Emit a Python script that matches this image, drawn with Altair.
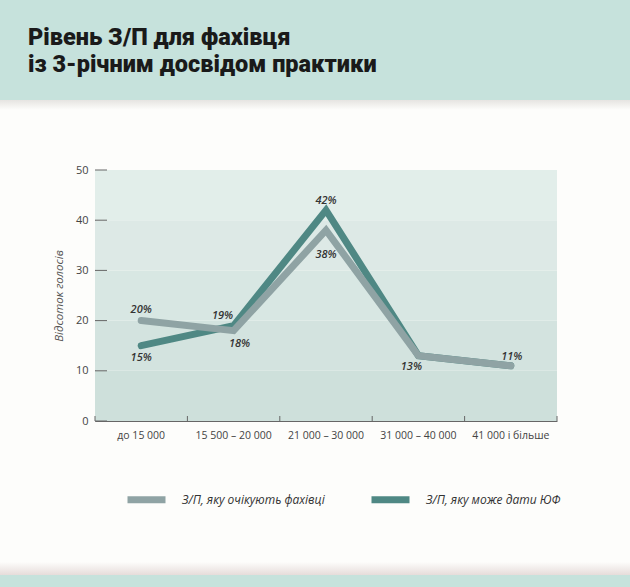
import altair as alt
import pandas as pd

# ---------------- data ----------------
categories = ["до 15 000", "15 500 – 20 000", "21 000 – 30 000", "31 000 – 40 000", "41 000 і більше"]
expected = [20, 18, 38, 13, 11]      # З/П, яку очікують фахівці
offered = [15, 19, 42, 13, 11]       # З/П, яку може дати ЮФ
series_names = ["З/П, яку очікують фахівці", "З/П, яку може дати ЮФ"]
series_colors = ["#8fa3a4", "#4f8884"]
title_lines = ["Рівень З/П для фахівця", "із 3-річним досвідом практики"]
y_ticks = [0, 10, 20, 30, 40, 50]
band_colors = ["#cee0db", "#d3e3df", "#d8e7e3", "#dde9e6", "#e2eeea"]

W, H = 462, 251

df_exp = pd.DataFrame({"cat": categories, "value": expected, "series": series_names[0]})
df_off = pd.DataFrame({"cat": categories, "value": offered, "series": series_names[1]})

# label placement (pixel nudges, style only): series index, category index, dx, dy
label_rows = [
    (0, 0, 0, -11), (1, 0, 0, 12),
    (1, 1, -11, -10), (0, 1, 6, 13),
    (1, 2, 0, -9), (0, 2, 0, 25),
    (0, 3, -7, 11),
    (0, 4, 1, -9),
]
vals = [expected, offered]

df_bands = pd.DataFrame({
    "lo": y_ticks[:-1],
    "hi": y_ticks[1:],
    "col": band_colors,
})

FONT = "Open Sans"

xscale = alt.Scale(type="band", domain=categories, paddingInner=0, paddingOuter=0)
yscale = alt.Scale(domain=[0, 50], nice=False)
cscale = alt.Scale(domain=series_names, range=series_colors)

x_axis = alt.Axis(ticks=False, labelPadding=9, labelFontSize=10.5, labelColor="#444",
                  labelFont=FONT, domainColor="#666", title=None, labelAngle=0)
y_axis = alt.Axis(values=y_ticks, ticks=False, labelPadding=7, labelFontSize=11,
                  labelColor="#444", labelFont=FONT, domainColor="#666",
                  title="Відсоток голосів", titleFont=FONT, titleFontStyle="italic",
                  titleFontWeight="normal", titleFontSize=11.5, titleColor="#555",
                  titlePadding=11, grid=False)

bands = alt.Chart(df_bands).mark_rect().encode(
    x=alt.value(0), x2=alt.value(W),
    y=alt.Y("lo:Q", scale=yscale, axis=y_axis),
    y2="hi:Q",
    fill=alt.Fill("col:N", scale=None),
)

x_enc = alt.X("cat:N", scale=xscale, axis=x_axis, sort=categories, bandPosition=0.5)

line_off = alt.Chart(df_off).mark_line(strokeWidth=7, strokeCap="round", strokeJoin="miter").encode(
    x=x_enc,
    y=alt.Y("value:Q", scale=yscale),
    color=alt.Color("series:N", scale=cscale, legend=alt.Legend(
        title=None, orient="none", legendX=29, legendY=307, direction="horizontal",
        symbolType="stroke", symbolSize=1444, symbolStrokeWidth=7,
        labelFont=FONT, labelFontSize=12, labelFontStyle="italic", labelColor="#333",
        labelOffset=13, columnPadding=32, labelLimit=400)),
)
line_exp = alt.Chart(df_exp).mark_line(strokeWidth=7, strokeCap="round", strokeJoin="miter").encode(
    x=x_enc,
    y=alt.Y("value:Q", scale=yscale),
    color=alt.Color("series:N", scale=cscale),
)

label_layers = []
for s, c, dx, dy in label_rows:
    d = pd.DataFrame({"cat": [categories[c]], "value": [vals[s][c]], "txt": [f"{vals[s][c]}%"]})
    label_layers.append(
        alt.Chart(d).mark_text(font=FONT, fontSize=11, fontStyle="italic", fontWeight=600,
                               color="#333", baseline="middle", dx=dx, dy=dy).encode(
            x=x_enc, y=alt.Y("value:Q", scale=yscale), text="txt:N")
    )

# inward axis ticks
df_yt = pd.DataFrame({"v": y_ticks})
ytick_rules = alt.Chart(df_yt).mark_rule(color="#666", strokeWidth=1).encode(
    y=alt.Y("v:Q", scale=yscale), x=alt.value(0), x2=alt.value(12))
df_xt = pd.DataFrame({"cat": categories})
xtick_rules = alt.Chart(df_xt).mark_rule(color="#666", strokeWidth=1).encode(
    x=alt.X("cat:N", scale=xscale, sort=categories, bandPosition=0),
    y=alt.value(H), y2=alt.value(H - 5))
xtick_end = alt.Chart(df_xt.tail(1)).mark_rule(color="#666", strokeWidth=1).encode(
    x=alt.X("cat:N", scale=xscale, sort=categories, bandPosition=1),
    y=alt.value(H), y2=alt.value(H - 5))

# page decoration: header band, shadow, footer band
one = pd.DataFrame({"a": [0]})
header = alt.Chart(one).mark_rect(color="#c6e2dc").encode(
    x=alt.value(-95), x2=alt.value(535), y=alt.value(-170), y2=alt.value(-70))
header_shadow = alt.Chart(one).mark_rect(
    fill=alt.LinearGradient(gradient="linear", x1=0, y1=0, x2=0, y2=1,
                            stops=[alt.GradientStop(color="#e6e4e1", offset=0),
                                   alt.GradientStop(color="#fdfdfb", offset=1)])).encode(
    x=alt.value(-95), x2=alt.value(535), y=alt.value(-70), y2=alt.value(-60))
footer_shadow = alt.Chart(one).mark_rect(
    fill=alt.LinearGradient(gradient="linear", x1=0, y1=0, x2=0, y2=1,
                            stops=[alt.GradientStop(color="#fdfdfb", offset=0),
                                   alt.GradientStop(color="#e6dcda", offset=1)])).encode(
    x=alt.value(-95), x2=alt.value(535), y=alt.value(392), y2=alt.value(405))
footer = alt.Chart(one).mark_rect(color="#c6e2dc").encode(
    x=alt.value(-95), x2=alt.value(535), y=alt.value(405), y2=alt.value(420))

df_title = pd.DataFrame({"t": ["\n".join(title_lines)]})
title = alt.Chart(df_title).mark_text(font="Roboto", fontSize=23.5, fontWeight=900, color="#1a1a1a",
                                      align="left", baseline="alphabetic", lineBreak="\n",
                                      lineHeight=27).encode(
    text="t:N",
    x=alt.value(-67),
    y=alt.value(-125),
)

chart = alt.layer(
    header_shadow, header, footer_shadow, footer,
    bands, line_off, line_exp, ytick_rules, xtick_rules, xtick_end, *label_layers, title,
).properties(
    width=W, height=H,
    autosize=alt.AutoSizeParams(type="none"),
    padding={"left": 95, "top": 170, "right": 73, "bottom": 166},
    background="#fdfdfb",
).configure_view(stroke=None)

chart.save("out.html", embed_options={"renderer": "svg", "actions": False})
